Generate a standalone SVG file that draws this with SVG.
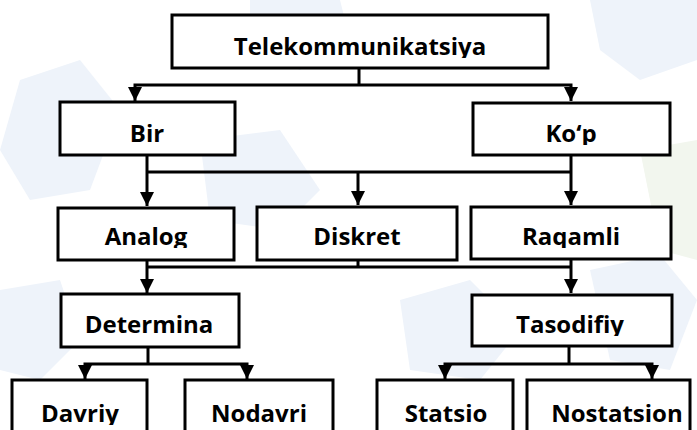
<svg xmlns="http://www.w3.org/2000/svg" width="697" height="430" viewBox="0 0 697 430">
<style>
.box{fill:#fff;stroke:#000;stroke-width:3}
.lbl{font-family:"Open Sans","Noto Sans","Liberation Sans",sans-serif;font-weight:700;font-size:24px;text-anchor:middle;fill:#000}
.ln{fill:none;stroke:#000;stroke-width:3}
.bg{fill:#eef3fa}
.bg2{fill:#f2f6ee}
</style>
<defs>
<marker id="ah" viewBox="0 0 14 14" refX="14" refY="7" markerWidth="14" markerHeight="14" markerUnits="userSpaceOnUse" orient="auto-start-reverse">
<path d="M0,0 L14,7 L0,14 Z" fill="#000"/>
</marker>
<clipPath id="c1"><rect x="172" y="15" width="376" height="43"/></clipPath>
<clipPath id="c2"><rect x="0" y="102" width="697" height="43"/></clipPath>
<clipPath id="c3"><rect x="0" y="207" width="697" height="41"/></clipPath>
<clipPath id="c4"><rect x="0" y="294" width="697" height="42"/></clipPath>
<clipPath id="c5"><rect x="0" y="380" width="697" height="45"/></clipPath>
</defs>
<rect width="697" height="430" fill="#fff"/>
<g id="background">
<polygon class="bg" points="20,80 80,60 120,110 90,190 30,200 0,150"/>
<polygon class="bg" points="250,0 340,0 350,40 300,70 250,50"/>
<polygon class="bg" points="590,0 697,0 697,60 640,80 600,50"/>
<polygon class="bg" points="200,140 280,130 320,190 280,230 210,220"/>
<polygon class="bg" points="400,300 470,280 520,330 480,380 410,370"/>
<polygon class="bg" points="0,290 60,280 80,340 40,380 0,370"/>
<polygon class="bg2" points="640,150 697,140 697,260 660,250"/>
<polygon class="bg" points="590,270 660,255 697,300 670,370 610,360"/>
</g>
<g id="connectors">
<path class="ln" d="M359,68 V85"/>
<path class="ln" d="M135,101 V85 H571 V101" marker-start="url(#ah)" marker-end="url(#ah)"/>
<path class="ln" d="M147,155 V206" marker-end="url(#ah)"/>
<path class="ln" d="M147,172 H571"/>
<path class="ln" d="M571,155 V205" marker-end="url(#ah)"/>
<path class="ln" d="M358,172 V205" marker-end="url(#ah)"/>
<path class="ln" d="M147,260 V293" marker-end="url(#ah)"/>
<path class="ln" d="M147,267 H571"/>
<path class="ln" d="M358,260 V267"/>
<path class="ln" d="M571,259 V293" marker-end="url(#ah)"/>
<path class="ln" d="M148,347 V364"/>
<path class="ln" d="M85,379 V364 H247 V379" marker-start="url(#ah)" marker-end="url(#ah)"/>
<path class="ln" d="M569,346 V364"/>
<path class="ln" d="M445,379 V364 H652 V379" marker-start="url(#ah)" marker-end="url(#ah)"/>
</g>
<g id="n-telekom"><rect class="box" x="172" y="15" width="376" height="53"/><text class="lbl" x="360" y="55" clip-path="url(#c1)">Telekommunikatsiya</text></g>
<g id="n-bir"><rect class="box" x="60" y="102" width="175" height="53"/><text class="lbl" x="147" y="142" clip-path="url(#c2)">Bir</text></g>
<g id="n-kop"><rect class="box" x="473" y="103" width="197" height="52"/><text class="lbl" x="571" y="142" clip-path="url(#c2)">Ko‘p</text></g>
<g id="n-analog"><rect class="box" x="58" y="208" width="176" height="52"/><text class="lbl" x="146" y="245" clip-path="url(#c3)">Analog</text></g>
<g id="n-diskret"><rect class="box" x="257" y="207" width="200" height="53"/><text class="lbl" x="357" y="245" clip-path="url(#c3)">Diskret</text></g>
<g id="n-raqamli"><rect class="box" x="471" y="207" width="200" height="52"/><text class="lbl" x="571" y="245" clip-path="url(#c3)">Raqamli</text></g>
<g id="n-determina"><rect class="box" x="61" y="294" width="178" height="53"/><text class="lbl" x="149" y="333" clip-path="url(#c4)">Determina</text></g>
<g id="n-tasodifiy"><rect class="box" x="472" y="295" width="200" height="51"/><text class="lbl" x="570" y="333" clip-path="url(#c4)">Tasodifiy</text></g>
<g id="n-davriy"><rect class="box" x="12" y="380" width="135" height="60"/><text class="lbl" x="80" y="422" clip-path="url(#c5)">Davriy</text></g>
<g id="n-nodavri"><rect class="box" x="185" y="380" width="148" height="60"/><text class="lbl" x="259" y="422" clip-path="url(#c5)">Nodavri</text></g>
<g id="n-statsio"><rect class="box" x="377" y="380" width="136" height="60"/><text class="lbl" x="446" y="422" clip-path="url(#c5)">Statsio</text></g>
<g id="n-nostatsion"><rect class="box" x="527" y="380" width="163" height="60"/><text class="lbl" x="617" y="422" clip-path="url(#c5)">Nostatsion</text></g>
</svg>
